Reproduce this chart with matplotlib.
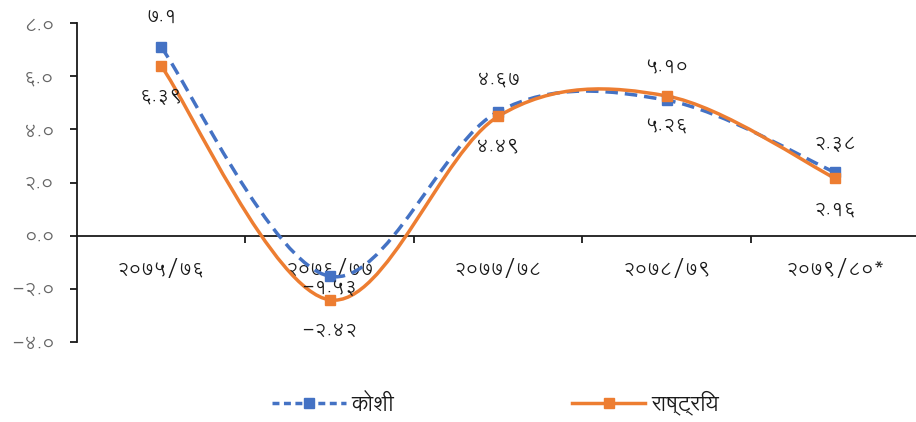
import matplotlib
matplotlib.use("Agg")
import matplotlib.pyplot as plt
from matplotlib.path import Path
from matplotlib.patches import PathPatch
from matplotlib.lines import Line2D
import numpy as np

# ---- data ----
categories = ["२०७५/७६", "२०७६/७७", "२०७७/७८", "२०७८/७९", "२०७९/८०*"]
koshi = [7.1, -1.53, 4.67, 5.10, 2.38]
rastriya = [6.39, -2.42, 4.49, 5.26, 2.16]
koshi_labels = ["७.१", "-१.५३", "४.६७", "५.१०", "२.३८"]
rastriya_labels = ["६.३९", "-२.४२", "४.४९", "५.२६", "२.१६"]
series_names = ["कोशी", "राष्ट्रिय"]
yticks = [-4, -2, 0, 2, 4, 6, 8]
ytick_labels = ["-४.०", "-२.०", "०.०", "२.०", "४.०", "६.०", "८.०"]

# label placement (pixels offset from the marker; style only)
koshi_label_offsets = [31, -11, 32, 33, 29]
rastriya_label_offsets = [-31, -31, -30, -30, -31]

plt.rcParams['font.family'] = ['Lohit Devanagari', 'DejaVu Sans']

BLUE = "#4472C4"
ORANGE = "#ED7D31"
TXT = "#1a1a1a"

fig = plt.figure(figsize=(9.16, 4.22), dpi=100)
ax = fig.add_axes([0.084, 0.19, 0.916, 0.755])


def smooth_path(xs, ys):
    pts = np.column_stack([xs, ys]).astype(float)
    n = len(pts)
    verts = [pts[0]]
    codes = [Path.MOVETO]
    for i in range(n - 1):
        p0 = pts[max(i - 1, 0)]
        p1 = pts[i]
        p2 = pts[i + 1]
        p3 = pts[min(i + 2, n - 1)]
        c1 = p1 + (p2 - p0) / 6.0
        c2 = p2 - (p3 - p1) / 6.0
        verts += [c1, c2, p2]
        codes += [Path.CURVE4] * 3
    return Path(verts, codes)


x = np.arange(len(categories))

pb = PathPatch(smooth_path(x, koshi), facecolor='none', edgecolor=BLUE,
               lw=2.5, linestyle=(0, (3.6, 2.0)), zorder=3)
ax.add_patch(pb)
po = PathPatch(smooth_path(x, rastriya), facecolor='none', edgecolor=ORANGE,
               lw=2.5, zorder=4)
ax.add_patch(po)
ax.plot(x, koshi, ls='none', marker='s', ms=6.5, color=BLUE, zorder=5)
ax.plot(x, rastriya, ls='none', marker='s', ms=6.5, color=ORANGE, zorder=6)

px2pt = 72.0 / fig.dpi
for xi, v, t, off in zip(x, koshi, koshi_labels, koshi_label_offsets):
    ax.annotate(t, (xi, v), xytext=(0, off * px2pt), textcoords='offset points',
                ha='center', va='center', fontsize=14, color=TXT, zorder=7)
for xi, v, t, off in zip(x, rastriya, rastriya_labels, rastriya_label_offsets):
    ax.annotate(t, (xi, v), xytext=(0, off * px2pt), textcoords='offset points',
                ha='center', va='center', fontsize=14, color=TXT, zorder=7)

ax.set_xlim(-0.5, 4.48)
ax.set_ylim(-4, 8)
ax.spines['top'].set_visible(False)
ax.spines['right'].set_visible(False)
ax.spines['bottom'].set_position(('data', 0))
ax.spines['left'].set_linewidth(1.3)
ax.spines['bottom'].set_linewidth(1.3)
ax.spines['left'].set_color('#1a1a1a')
ax.spines['bottom'].set_color('#1a1a1a')

ax.set_yticks(yticks)
ax.set_yticklabels(ytick_labels)
ax.tick_params(axis='y', length=5, width=1.3, labelsize=14, labelcolor='#666666',
               color='#1a1a1a', pad=11)

ax.set_xticks(np.arange(len(categories) - 1) + 0.5)
ax.set_xticklabels([])
ax.tick_params(axis='x', which='major', length=5, width=1.3, direction='out', color='#1a1a1a')
ax.set_xticks(x, minor=True)
ax.set_xticklabels(categories, minor=True)
ax.tick_params(axis='x', which='minor', length=0, labelsize=14, pad=17, labelcolor=TXT)

handles = [Line2D([], [], color=BLUE, lw=2.5, ls=(0, (2.0, 1.3)), marker='s', ms=6.5),
           Line2D([], [], color=ORANGE, lw=2.5, marker='s', ms=6.5)]
fig.legend(handles, series_names, loc='center', bbox_to_anchor=(0.541, 0.045),
           ncol=2, frameon=False, fontsize=16, handlelength=3.3, handletextpad=0.25,
           columnspacing=8.0, labelcolor=TXT)

fig.savefig("out.png", dpi=100)
